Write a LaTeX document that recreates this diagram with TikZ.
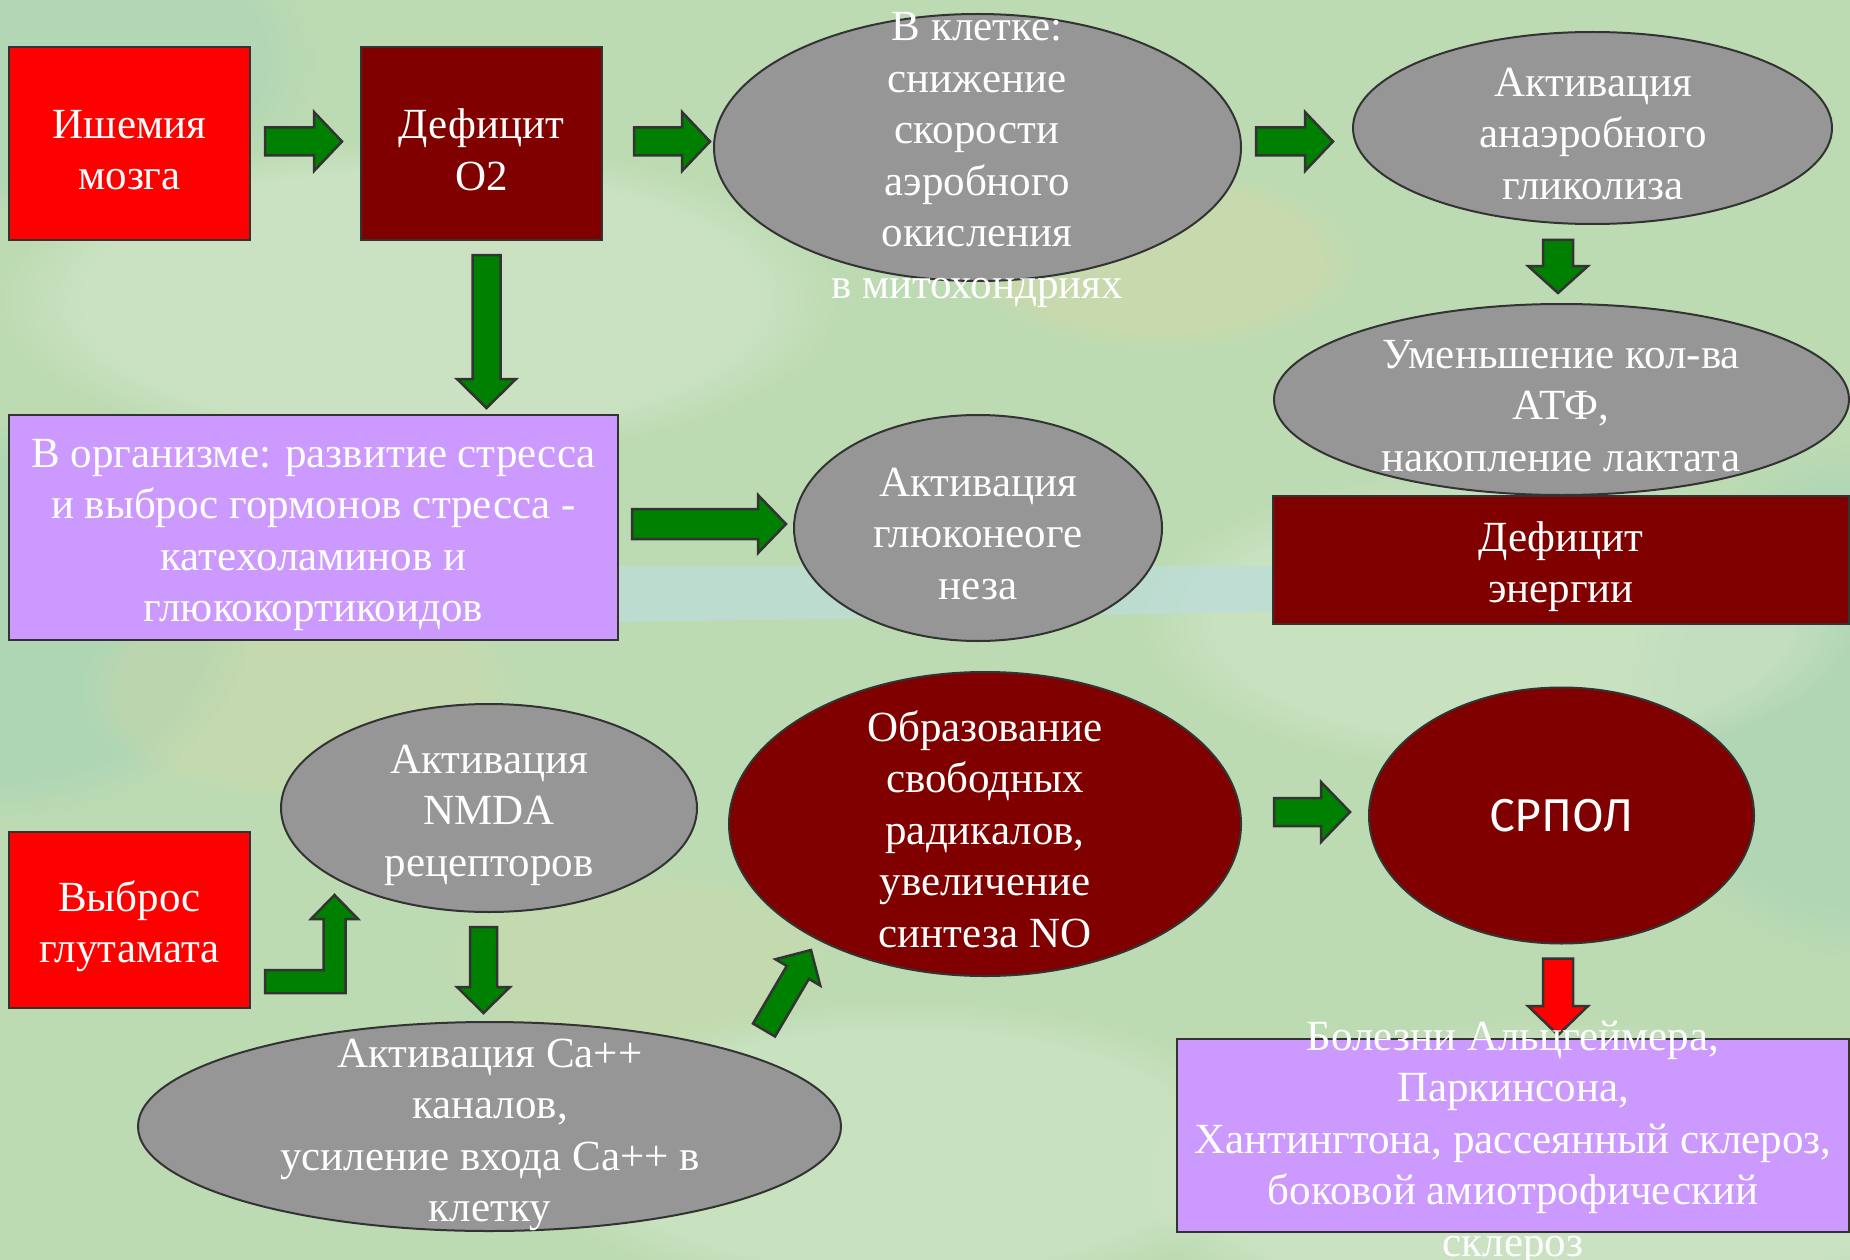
\documentclass[tikz,border=0pt]{standalone}
\usepackage{fontspec}
\setmainfont{Liberation Serif}
\newfontfamily\srpolfont{Fira Sans}
\usetikzlibrary{shapes.geometric,calc,fadings}
\definecolor{bgg}{HTML}{BDDBB3}
\definecolor{bglt}{HTML}{D3E7CB}
\definecolor{bgyel}{HTML}{D4D8A6}
\definecolor{bgblue}{HTML}{BEDDD8}
\definecolor{bgteal}{HTML}{A6D3B6}
\definecolor{pred}{HTML}{FF0000}
\definecolor{pdark}{HTML}{800000}
\definecolor{pgray}{HTML}{969696}
\definecolor{plav}{HTML}{CC99FF}
\definecolor{pgreen}{HTML}{008000}
\definecolor{pline}{HTML}{333333}
% #1 fill, #2 start, #3 tip, #4 shaft half width, #5 head half width, #6 head length
\newcommand\blockarrow[6][pgreen]{%
  \coordinate (bah) at ($(#3)!#6!(#2)$);
  \draw[arrowsty,fill=#1] ($(#2)!#4!90:(#3)$) -- ($(bah)!#4!90:(#3)$) -- ($(bah)!#5!90:(#3)$) -- (#3)
    -- ($(bah)!#5!-90:(#3)$) -- ($(bah)!#4!-90:(#3)$) -- ($(#2)!#4!-90:(#3)$) -- cycle;
}
\begin{document}
\begin{tikzpicture}[x=1pt,y=-1pt,
  box/.style={draw=pline, line width=2pt, inner sep=0pt, outer sep=0pt},
  ell/.style={box, ellipse},
  txt/.style={text=white, align=center, inner sep=0pt, font=\fontsize{43}{51.5}\selectfont},
  arrowsty/.style={draw=pline, line width=2.5pt, line join=miter},
  blob/.style={path fading=circle with fuzzy edge 20 percent}]
\useasboundingbox (0,0) rectangle (1850,1260);
% background
\fill[bgg] (0,0) rectangle (1850,1260);
\fill[bgteal, blob, opacity=0.6] (0,620) ellipse (260 and 200);
\fill[bgteal, blob, opacity=0.5] (1850,700) ellipse (220 and 260);
\fill[bgteal, blob, opacity=0.4] (60,60) ellipse (260 and 160);
\fill[bglt, blob, opacity=0.6] (420,300) ellipse (420 and 160);
\fill[bglt, blob, opacity=0.6] (1550,1180) ellipse (420 and 160);
\fill[bglt, blob, opacity=0.5] (900,1150) ellipse (380 and 150);
\fill[bglt, blob, opacity=0.5] (1500,620) ellipse (360 and 150);
\fill[bgyel, blob, opacity=0.45] (1160,260) ellipse (200 and 90);
\fill[bgyel, blob, opacity=0.35] (300,690) ellipse (220 and 110);
\fill[bgyel, blob, opacity=0.3] (640,960) ellipse (200 and 90);
\fill[bgblue, opacity=0.8] (618,566) -- (1274,566) -- (1274,612) -- (618,622) -- cycle;

% shapes
\node[box, rectangle, fill=pred, minimum width=241pt, minimum height=193pt] (isch) at (129.5,143.5) {};
\node[box, rectangle, fill=pdark, minimum width=241pt, minimum height=193pt] (def) at (481.5,143.5) {};
\node[ell, fill=pgray, minimum width=527pt, minimum height=267pt] (kletka) at (977.5,147.5) {};
\node[ell, fill=pgray, minimum width=479pt, minimum height=192pt] (anaer) at (1592.5,128) {};
\node[ell, fill=pgray, minimum width=575pt, minimum height=191pt] (umen) at (1561.5,399.5) {};
\node[box, rectangle, fill=pdark, minimum width=576pt, minimum height=128pt] (defen) at (1561,560) {};
\node[box, rectangle, fill=plav, minimum width=609pt, minimum height=225pt] (org) at (313.5,527.5) {};
\node[ell, fill=pgray, minimum width=368pt, minimum height=226pt] (gluco) at (978,528) {};
\node[box, rectangle, fill=pred, minimum width=241pt, minimum height=176pt] (vybr) at (129.5,920) {};
\node[ell, fill=pgray, minimum width=416pt, minimum height=208pt] (nmda) at (489,808) {};
\node[ell, fill=pgray, minimum width=703pt, minimum height=209pt] (ca) at (489.5,1126.5) {};
\node[ell, fill=pdark, minimum width=512pt, minimum height=304pt] (obraz) at (985,824) {};
\node[ell, fill=pdark, minimum width=385pt, minimum height=256pt] (srpol) at (1561.5,815.5) {};
\node[box, rectangle, fill=plav, minimum width=672pt, minimum height=193pt] (bolez) at (1513,1135.5) {};

% connector end points
\coordinate (a1s) at ($(isch.east)+(15,-2)$);
\coordinate (a1t) at ($(def.west)+(-19,-2)$);
\coordinate (a2s) at ($(def.east)+(32,-2)$);
\coordinate (a2t) at ($(kletka.west)+(-4,-6)$);
\coordinate (a3s) at ($(kletka.east)+(15,-6)$);
\coordinate (a3t) at ($(anaer.west)+(-20,13.5)$);
\coordinate (a4s) at ($(anaer.south)+(-34.5,16)$);
\coordinate (a4t) at ($(umen.north)+(-3.5,-11)$);
\coordinate (a5s) at ($(def.south)+(5,15)$);
\coordinate (a5t) at ($(def.south|-org.north)+(5,-7)$);
\coordinate (a6s) at ($(org.east)+(14,-3.5)$);
\coordinate (a6t) at ($(gluco.west)+(-8,-4)$);
\coordinate (a7s) at ($(vybr.east)+(15,61.5)$);
\coordinate (a7t) at ($(nmda.center)+(-154.5,87)$);
\coordinate (a8s) at ($(nmda.south)+(-5.5,15)$);
\coordinate (a8t) at ($(ca.north)+(-6,-9)$);
\coordinate (a9s) at ($(ca.center)+(274.5,-96.5)$);
\coordinate (a9t) at ($(obraz.center)+(-174,126)$);
\coordinate (a10s) at ($(obraz.east)+(33,-12)$);
\coordinate (a10t) at ($(srpol.west)+(-19,-3.5)$);
\coordinate (a11s) at ($(srpol.south)+(-3.5,15)$);
\coordinate (a11t) at ($(bolez.north)+(45,-4)$);

% connectors
\blockarrow{a1s}{a1t}{14pt}{29.5pt}{28pt}
\blockarrow{a2s}{a2t}{14pt}{29.5pt}{28pt}
\blockarrow{a3s}{a3t}{14pt}{29.5pt}{28pt}
\blockarrow{a4s}{a4t}{15pt}{30pt}{27pt}
\blockarrow{a5s}{a5t}{14pt}{29.5pt}{29pt}
\blockarrow{a6s}{a6t}{15pt}{29pt}{28pt}
\draw[arrowsty, fill=pgreen] ($(a7s)+(0,-11.5)$) -- ($(a7t|-a7s)+(-11,-11.5)$) -- ($(a7t)+(-11,24)$)
  -- ($(a7t)+(-23.5,24)$) -- (a7t) -- ($(a7t)+(23.5,24)$) -- ($(a7t)+(11,24)$)
  -- ($(a7t|-a7s)+(11,11.5)$) -- ($(a7s)+(0,11.5)$) -- cycle;
\blockarrow{a8s}{a8t}{13.5pt}{26.5pt}{26pt}
\blockarrow{a9s}{a9t}{12.8pt}{26pt}{26pt}
\blockarrow{a10s}{a10t}{14pt}{30pt}{29pt}
\blockarrow[pred]{a11s}{a11t}{15pt}{30pt}{29pt}

% texts
\node[txt] (ischT) at (129.5,150) {Ишемия\\мозга};
\node[txt] (defT) at (481.5,150) {Дефицит\\O2};
\node[txt] (kletkaT) at (977,160) {В клетке:\\снижение\\скорости\\аэробного\\окисления\\в митохондриях};
\node[txt] (anaerT) at (1593,134) {Активация\\анаэробного\\гликолиза};
\node[txt] (umenT) at (1561,406) {Уменьшение кол-ва\\АТФ,\\накопление лактата};
\node[txt] (defenT) at (1561,566.5) {Дефицит\\энергии};
\node[txt] (orgT) at (313.5,535) {В организме: развитие стресса\\и выброс гормонов стресса -\\катехоламинов и\\глюкокортикоидов};
\node[txt] (glucoT) at (978,534) {Активация\\глюконеоге\\неза};
\node[txt] (vybrT) at (129.5,926) {Выброс\\глутамата};
\node[txt] (nmdaT) at (489,815) {Активация\\NMDA\\рецепторов};
\node[txt] (caT) at (490,1135) {Активация Са++\\каналов,\\усиление входа Са++ в\\клетку};
\node[txt] (obrazT) at (985,829) {Образование\\свободных\\радикалов,\\увеличение\\синтеза NO};
\node[txt, font=\srpolfont\fontsize{46}{52}\selectfont] (srpolT) at (1561.5,816) {СРПОЛ};
\node[txt] (bolezT) at (1513,1143) {Болезни Альцгеймера,\\Паркинсона,\\Хантингтона, рассеянный склероз,\\боковой амиотрофический\\склероз};
\end{tikzpicture}
\end{document}
